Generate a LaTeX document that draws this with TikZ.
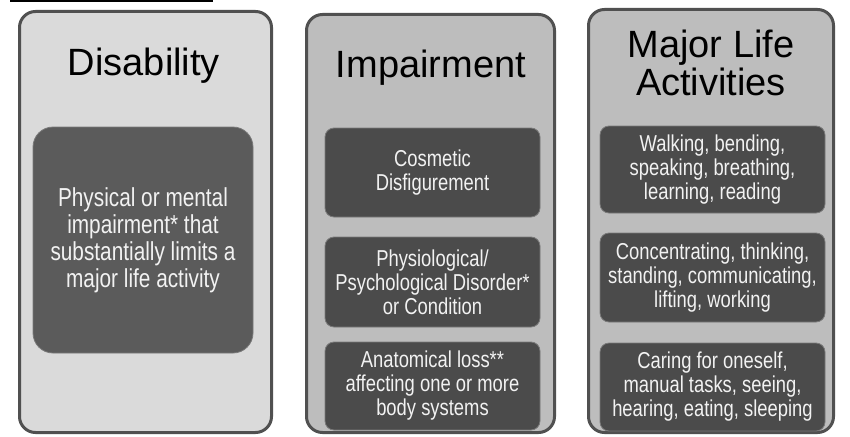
\documentclass[tikz,border=0pt]{standalone}
\usepackage{fontspec}
\setmainfont{Liberation Sans}
\newfontfamily\narrowfont[FakeStretch=0.8]{Liberation Sans}
\usepackage{tikz}
\definecolor{paleback}{HTML}{DADADA}
\definecolor{midback}{HTML}{BDBDBD}
\definecolor{frame}{HTML}{505050}
\definecolor{boxdark}{HTML}{4B4B4B}
\definecolor{boxsoft}{HTML}{5B5B5B}
\definecolor{boxline}{HTML}{7A7A7A}
\definecolor{paletext}{HTML}{F2F2F2}

\begin{document}
\begin{tikzpicture}[x=1pt, y=-1pt,
  panel/.style={draw=frame, line width=3pt, rounded corners=16pt, inner sep=0pt},
  heading/.style={inner sep=0pt, align=center, font=\fontsize{38}{38}\selectfont},
  item/.style={fill=boxdark, draw=boxline, line width=0.8pt, rounded corners=9pt,
    inner sep=0pt, align=center, text=paletext, font=\narrowfont\fontsize{23}{24}\selectfont}]
  \useasboundingbox (0, 0) rectangle (850, 436);

  \draw[line width=2.5pt] (10, 1) -- (213, 1);

  % Disability
  \node[panel, fill=paleback, minimum width=252pt, minimum height=421pt] (dis) at (145.5, 222) {};
  \node[heading, anchor=base] (dis-title) at (144, 75) {Disability};
  \node[item, fill=boxsoft, rounded corners=20pt, minimum width=220pt, minimum height=226pt,
    font=\narrowfont\fontsize{26}{27}\selectfont] (dis-a) at (143, 240)
    {Physical or mental\\impairment* that\\substantially limits a\\major life activity};

  % Impairment
  \node[panel, fill=midback, minimum width=248pt, minimum height=418pt] (imp) at (430.5, 223.5) {};
  \node[heading, anchor=base] (imp-title) at (431, 77) {Impairment};
  \node[item, minimum width=215pt, minimum height=89pt] (imp-a) at (432.5, 172.5)
    {Cosmetic\\Disfigurement};
  \node[item, minimum width=215pt, minimum height=90pt] (imp-b) at (432.5, 282)
    {Physiological/\\Psychological Disorder*\\or Condition};
  \node[item, minimum width=215pt, minimum height=88pt] (imp-c) at (432.5, 386)
    {Anatomical loss**\\affecting one or more\\body systems};

  % Major life activities
  \node[panel, fill=midback, minimum width=245pt, minimum height=423pt] (mla) at (711, 221) {};
  \node[heading, anchor=north] (mla-title) at (711, 29.5) {Major Life\\Activities};
  \node[item, minimum width=225pt, minimum height=87pt] (mla-a) at (712.5, 169.5)
    {Walking, bending,\\speaking, breathing,\\learning, reading};
  \node[item, minimum width=225pt, minimum height=89pt] (mla-b) at (712.5, 277.5)
    {Concentrating, thinking,\\standing, communicating,\\lifting, working};
  \node[item, minimum width=225pt, minimum height=88pt] (mla-c) at (712.5, 387)
    {Caring for oneself,\\manual tasks, seeing,\\hearing, eating, sleeping};
\end{tikzpicture}
\end{document}
